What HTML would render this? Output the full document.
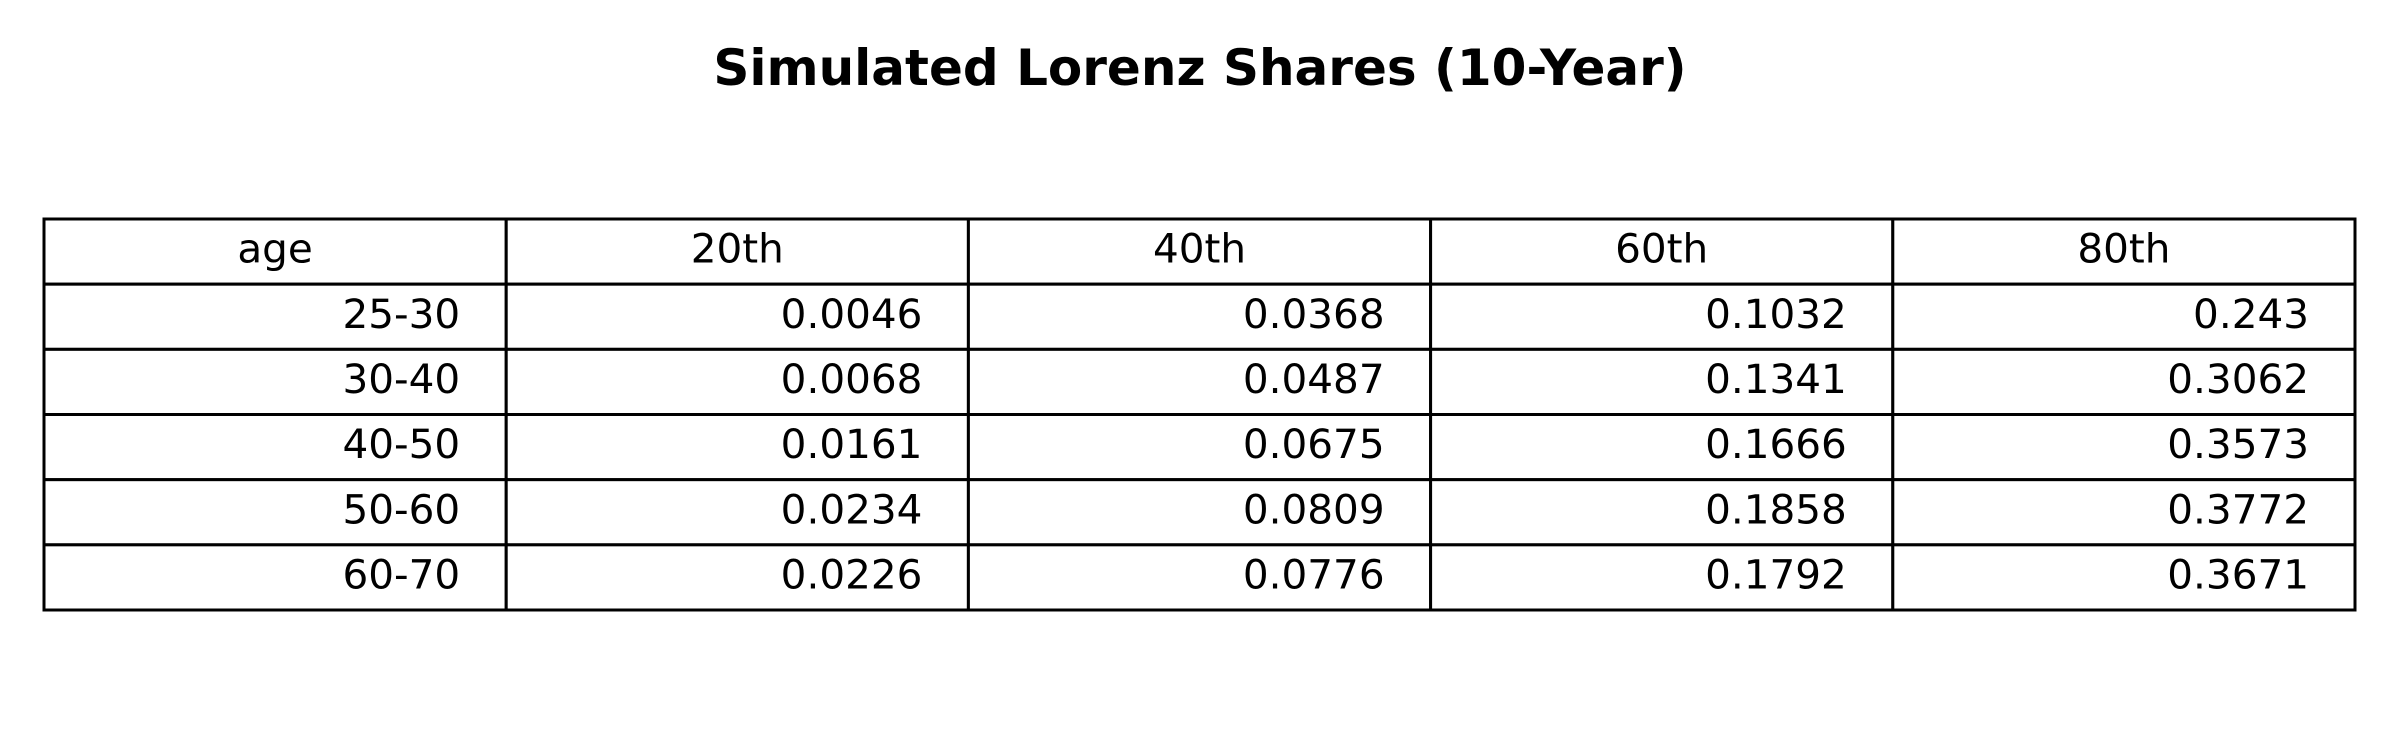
<!DOCTYPE html>
<html><head><meta charset="utf-8"><style>
html,body{margin:0;padding:0;background:#fff;}
svg{display:block;}
text{font-family:"DejaVu Sans","Liberation Sans",sans-serif;fill:#000;}
</style></head><body>
<svg id="chart" width="2400" height="750" viewBox="0 0 2400 750" xmlns="http://www.w3.org/2000/svg">
<text x="1200" y="85" text-anchor="middle" font-size="50" font-weight="bold">Simulated Lorenz Shares (10-Year)</text>
<g id="tbl"></g>
</svg>
<script>
const headers = ["age", "20th", "40th", "60th", "80th"];
const ages = ["25-30", "30-40", "40-50", "50-60", "60-70"];
const p20 = ["0.0046", "0.0068", "0.0161", "0.0234", "0.0226"];
const p40 = ["0.0368", "0.0487", "0.0675", "0.0809", "0.0776"];
const p60 = ["0.1032", "0.1341", "0.1666", "0.1858", "0.1792"];
const p80 = ["0.243", "0.3062", "0.3573", "0.3772", "0.3671"];

const NS = "http://www.w3.org/2000/svg";
const tblG = document.getElementById("tbl");
const tblLeft = 44, tblRight = 2355, tblTop = 219, tblBottom = 610;
const nCols = headers.length, nRows = ages.length + 1;
const cw = (tblRight - tblLeft) / nCols, rh = (tblBottom - tblTop) / nRows;
const cols = [ages, p20, p40, p60, p80];

for (let r = 0; r < nRows; r++) {
  for (let c = 0; c < nCols; c++) {
    const rect = document.createElementNS(NS, "rect");
    rect.setAttribute("x", tblLeft + c * cw);
    rect.setAttribute("y", tblTop + r * rh);
    rect.setAttribute("width", cw);
    rect.setAttribute("height", rh);
    rect.setAttribute("fill", "#fff");
    rect.setAttribute("stroke", "#000");
    rect.setAttribute("stroke-width", "3");
    
    
    tblG.appendChild(rect);
  }
}
for (let r = 0; r < nRows; r++) {
  for (let c = 0; c < nCols; c++) {
    const t = document.createElementNS(NS, "text");
    t.setAttribute("font-size", "40.5");
    t.setAttribute("y", tblTop + r * rh + rh / 2 + 11);
    if (r === 0) {
      t.setAttribute("x", tblLeft + c * cw + cw / 2);
      t.setAttribute("text-anchor", "middle");
      t.textContent = headers[c];
      
    } else {
      t.setAttribute("x", tblLeft + (c + 1) * cw - 46);
      t.setAttribute("text-anchor", "end");
      t.textContent = cols[c][r - 1];
      
    }
    
    tblG.appendChild(t);
  }
}
</script>
</body></html>
